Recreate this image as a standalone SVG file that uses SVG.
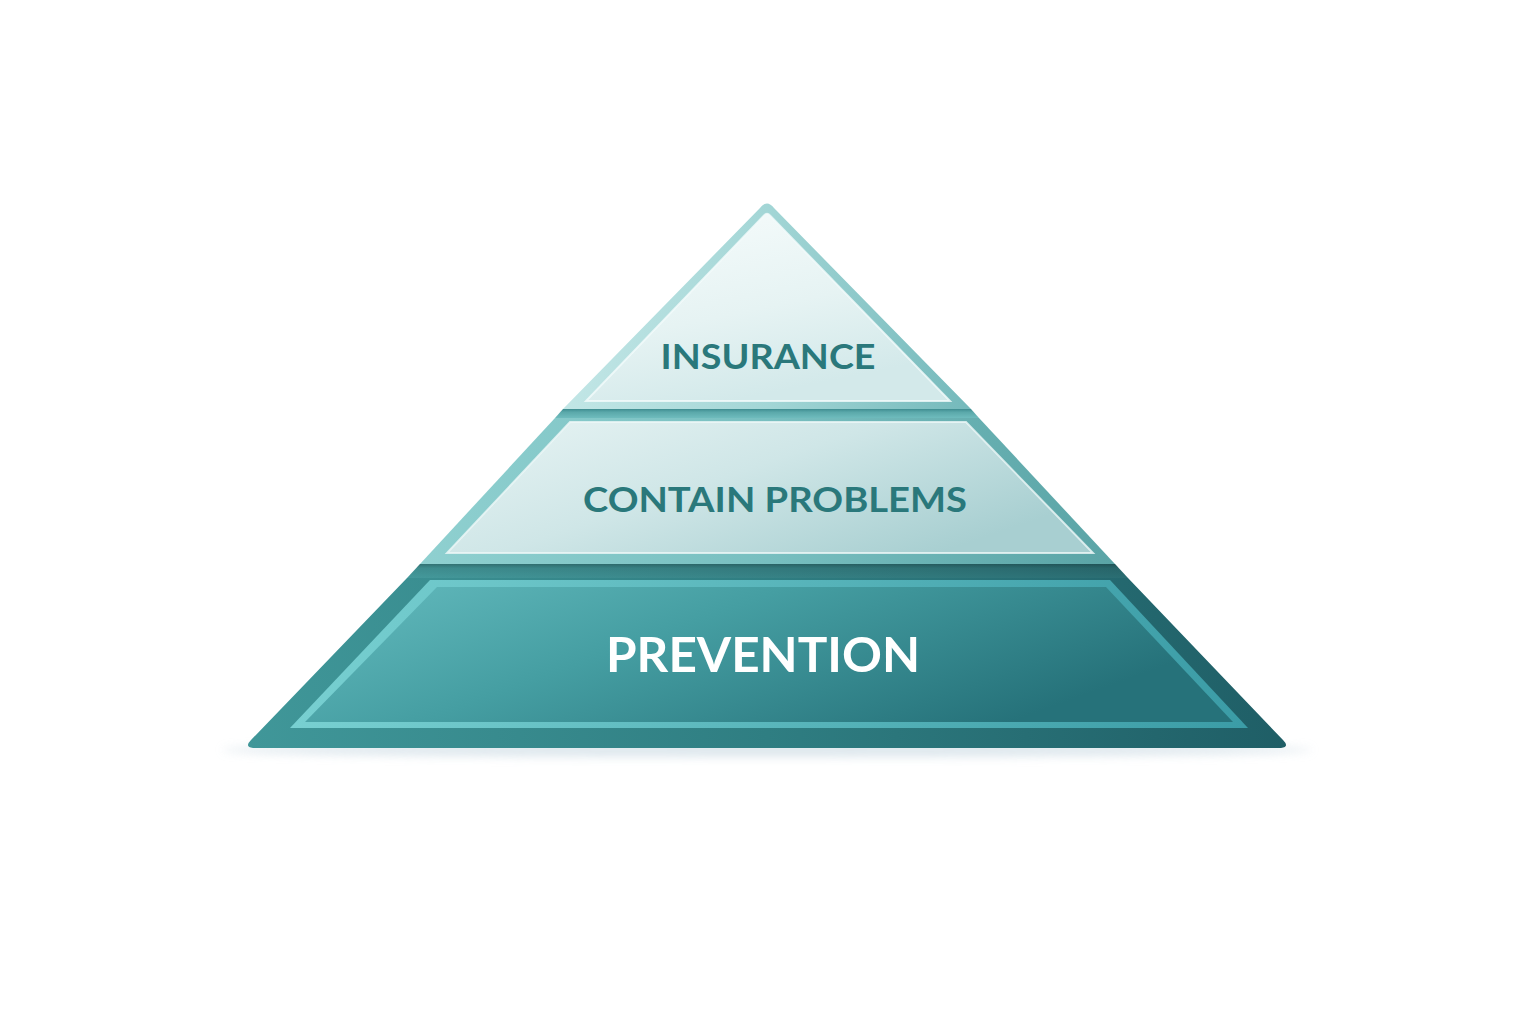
<svg xmlns="http://www.w3.org/2000/svg" width="1536" height="1024" viewBox="0 0 1536 1024">
  <defs>
    <linearGradient id="t1border" x1="0" y1="0" x2="1" y2="0">
      <stop offset="0" stop-color="#c2e6e6"/>
      <stop offset="0.5" stop-color="#a3d6d6"/>
      <stop offset="1" stop-color="#74b9bb"/>
    </linearGradient>
    <linearGradient id="t1fill" x1="0" y1="0" x2="0.4" y2="1">
      <stop offset="0" stop-color="#f7fcfc"/>
      <stop offset="0.6" stop-color="#e6f3f3"/>
      <stop offset="1" stop-color="#d3e9ea"/>
    </linearGradient>
    <linearGradient id="band1" x1="0" y1="0" x2="0" y2="1">
      <stop offset="0" stop-color="#3f8d90"/>
      <stop offset="0.35" stop-color="#5aa8aa"/>
      <stop offset="1" stop-color="#6fbcbd"/>
    </linearGradient>
    <linearGradient id="t2border" x1="0" y1="0" x2="1" y2="0">
      <stop offset="0" stop-color="#8fd0d0"/>
      <stop offset="0.5" stop-color="#78bfc0"/>
      <stop offset="1" stop-color="#5aa4a6"/>
    </linearGradient>
    <linearGradient id="t2fill" x1="0" y1="0" x2="1" y2="0.6">
      <stop offset="0" stop-color="#e8f4f4"/>
      <stop offset="0.5" stop-color="#cfe6e7"/>
      <stop offset="1" stop-color="#a8cfd1"/>
    </linearGradient>
    <linearGradient id="band2" x1="0" y1="0" x2="1" y2="0">
      <stop offset="0" stop-color="#44999b"/>
      <stop offset="1" stop-color="#2a6d72"/>
    </linearGradient>
    <linearGradient id="band2v" x1="0" y1="0" x2="0" y2="1">
      <stop offset="0" stop-color="#000" stop-opacity="0.25"/>
      <stop offset="0.3" stop-color="#000" stop-opacity="0.08"/>
      <stop offset="1" stop-color="#000" stop-opacity="0"/>
    </linearGradient>
    <linearGradient id="t3border" x1="0" y1="0" x2="1" y2="0">
      <stop offset="0" stop-color="#409799"/>
      <stop offset="0.5" stop-color="#2f7e82"/>
      <stop offset="1" stop-color="#1f5e66"/>
    </linearGradient>
    <linearGradient id="t3line" x1="0" y1="0" x2="1" y2="0">
      <stop offset="0" stop-color="#78d0d1"/>
      <stop offset="1" stop-color="#3b9ca6"/>
    </linearGradient>
    <linearGradient id="t3fill" x1="0" y1="0" x2="1" y2="0.4">
      <stop offset="0" stop-color="#64bbbe"/>
      <stop offset="0.45" stop-color="#459ea2"/>
      <stop offset="1" stop-color="#26727a"/>
    </linearGradient>
    <filter id="blur" x="-10%" y="-200%" width="120%" height="500%">
      <feGaussianBlur stdDeviation="5"/>
    </filter>
  </defs>
  <style>
    .lbl { font-family: "Lato", "Liberation Sans", sans-serif; font-weight: 700; text-anchor: middle; }
    .dark { fill: #2a787b; }
    .white { fill: #ffffff; }
  </style>

  <rect width="1536" height="1024" fill="#ffffff"/>

  <!-- ground shadow -->
  <ellipse cx="767" cy="750" rx="545" ry="7" fill="#cfdde5" opacity="0.7" filter="url(#blur)"/>

  <g id="tier-prevention">
    <path d="M407,578 L1128,578 L1283,740 Q1290,747 1281,748 L253,748 Q244,747 251,740 Z" fill="url(#t3border)"/>
    <polygon points="430,580 1110,580 1248,728 290,728" fill="url(#t3line)"/>
    <polygon points="437,587 1106,587 1233,722 305,722" fill="url(#t3fill)"/>
    <text class="lbl white" x="763" y="671.5" font-size="47" textLength="314" lengthAdjust="spacingAndGlyphs">PREVENTION</text>
  </g>

  <g id="separators">
    <polygon points="563,409 971,409 979,418 555,418" fill="url(#band1)"/>
    <polygon points="420,564 1115,564 1128,578 407,578" fill="url(#band2)"/>
    <polygon points="420,564 1115,564 1128,578 407,578" fill="url(#band2v)"/>
  </g>

  <g id="tier-contain">
    <polygon points="555,418 979,418 1115,564 420,564" fill="url(#t2border)"/>
    <polygon points="570,422 966,422 1093,553 447,553" fill="url(#t2fill)" stroke="#eef8f8" stroke-width="2" stroke-opacity="0.8"/>
    <text class="lbl dark" x="775" y="511.5" font-size="35" textLength="384" lengthAdjust="spacingAndGlyphs">CONTAIN PROBLEMS</text>
  </g>

  <g id="tier-insurance">
    <path d="M760,208 Q767,199 774,208 L971,409 L563,409 Z" fill="url(#t1border)"/>
    <path d="M764,215.5 Q767,212 770,215.5 L950,401 L586,401 Z" fill="url(#t1fill)" stroke="#f4fbfb" stroke-width="2" stroke-opacity="0.8"/>
    <text class="lbl dark" x="768" y="369" font-size="34" textLength="215" lengthAdjust="spacingAndGlyphs">INSURANCE</text>
  </g>
</svg>
